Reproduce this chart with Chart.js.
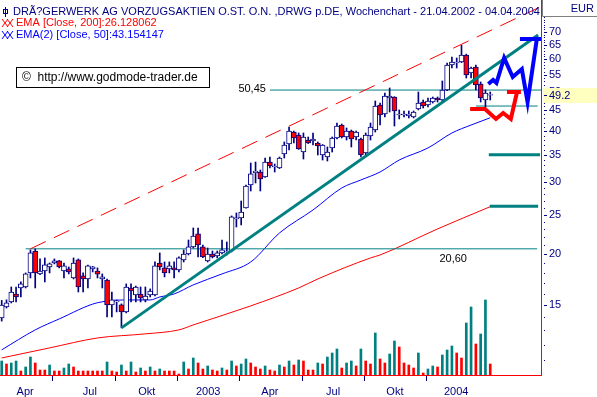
<!DOCTYPE html>
<html>
<head>
<meta charset="utf-8">
<script src="https://cdn.jsdelivr.net/npm/chart.js@4.4.1/dist/chart.umd.min.js"></script>
<style>
  html, body { margin: 0; padding: 0; background: #fff; }
  #chart { display: block; }
</style>
</head>
<body>
<canvas id="chart" width="597" height="397"></canvas>
<script>
// weekly candles 21.04.2002 - 04.04.2004 (week index 0..102)
const opens = [
  13.95, 14.85, 15.27, 15.97, 16.52, 16.61, 17.98, 20.35, 17.88, 18.18,
  18.60, 19.02, 19.24, 18.18, 18.39, 17.48, 19.35, 17.68, 17.38, 18.39,
  18.18, 17.38, 17.28, 15.01, 15.27, 15.01, 14.43, 16.52, 15.88, 15.97,
  15.44, 15.88, 15.88, 19.02, 18.50, 18.39, 18.50, 18.29, 19.35, 20.01,
  20.82, 22.41, 20.82, 19.24, 20.01, 19.79, 20.13, 20.24, 20.35, 24.38,
  24.52, 25.94, 29.53, 31.61, 31.78, 30.89, 33.62, 32.69, 32.50, 35.17,
  37.22, 39.82, 39.15, 35.57, 38.06, 37.85, 37.43, 34.97, 34.58, 36.39,
  38.49, 41.42, 38.71, 40.04, 38.71, 38.27, 35.37, 38.93, 40.27, 46.37,
  44.08, 48.24, 48.51, 43.83, 43.83, 43.60, 43.34, 45.34, 47.16, 46.37,
  47.16, 48.24, 47.70, 50.47, 58.11, 58.77, 59.10, 61.48, 55.54, 57.46,
  52.20, 47.70, 49.00
];
const highs = [
  15.40, 15.45, 16.61, 16.61, 17.09, 17.98, 20.47, 20.59, 19.46, 19.57,
  19.02, 19.46, 19.30, 19.02, 18.60, 19.57, 19.46, 17.98, 18.80, 18.65,
  18.50, 17.88, 17.38, 16.15, 15.44, 15.10, 16.90, 16.90, 16.70, 16.61,
  16.61, 16.43, 19.13, 20.13, 19.13, 19.13, 19.13, 19.68, 20.47, 21.65,
  23.17, 23.17, 21.05, 20.70, 20.35, 20.35, 21.65, 21.41, 24.80, 25.22,
  26.98, 29.53, 33.43, 33.62, 32.14, 34.39, 34.58, 33.24, 34.58, 37.64,
  40.96, 40.04, 39.60, 39.60, 38.71, 39.60, 37.64, 37.10, 36.59, 38.71,
  41.89, 41.65, 40.73, 40.27, 40.04, 38.49, 39.60, 41.89, 47.43, 46.89,
  49.62, 51.04, 48.60, 45.10, 44.83, 44.83, 44.83, 49.90, 47.70, 48.24,
  48.51, 48.51, 53.10, 58.77, 60.79, 60.45, 65.00, 61.80, 57.46, 58.11,
  52.80, 50.47, 49.90
];
const lows = [
  13.70, 14.75, 15.18, 15.27, 15.70, 16.52, 17.48, 16.52, 17.80, 17.09,
  17.98, 18.92, 18.50, 17.48, 17.88, 17.38, 16.15, 16.15, 16.52, 18.08,
  17.48, 16.52, 14.03, 14.03, 14.43, 13.19, 14.35, 15.27, 15.27, 15.27,
  15.27, 15.70, 15.80, 18.29, 17.58, 17.98, 17.48, 18.08, 19.13, 19.90,
  20.70, 19.68, 19.60, 19.13, 19.57, 19.57, 20.01, 19.90, 20.24, 23.30,
  23.57, 25.90, 28.55, 29.87, 28.55, 30.80, 32.50, 31.78, 32.40, 34.39,
  35.97, 37.43, 36.10, 34.19, 37.30, 37.01, 34.97, 34.00, 33.81, 35.57,
  38.27, 38.50, 38.06, 36.59, 38.06, 34.58, 34.97, 38.06, 39.82, 41.42,
  43.34, 44.58, 41.19, 42.86, 43.34, 43.10, 43.10, 45.10, 45.60, 45.85,
  46.89, 47.16, 47.16, 50.30, 57.14, 57.14, 58.90, 53.99, 53.99, 50.47,
  47.16, 45.85, 47.70
];
const closes = [
  15.00, 15.20, 16.15, 15.70, 16.90, 17.88, 20.13, 17.98, 18.18, 18.81,
  18.92, 19.24, 18.60, 18.71, 18.08, 19.02, 16.61, 17.38, 18.71, 18.60,
  17.85, 17.58, 15.01, 15.44, 15.35, 14.43, 16.61, 16.24, 16.61, 15.61,
  15.79, 16.24, 18.71, 18.60, 17.98, 18.71, 18.29, 19.57, 20.01, 20.82,
  22.15, 21.05, 19.68, 20.01, 19.68, 20.13, 20.47, 20.35, 24.66, 24.52,
  25.36, 29.37, 31.43, 31.96, 30.55, 33.62, 32.87, 32.87, 34.39, 37.01,
  40.04, 38.49, 36.18, 38.71, 37.43, 38.27, 36.80, 37.01, 35.57, 38.49,
  41.19, 38.71, 40.04, 38.27, 39.82, 34.97, 39.15, 40.96, 46.11, 43.83,
  48.78, 48.78, 44.83, 44.08, 44.08, 44.08, 44.58, 46.89, 46.11, 47.43,
  48.24, 47.70, 50.47, 58.11, 59.10, 59.10, 61.48, 54.92, 57.14, 51.91,
  48.24, 49.62, 49.20
];
// volume in thousand shares (estimated)
const volumes = [
  14, 11, 12, 14, 4, 8, 18, 12, 5, 5,
  10, 4, 4, 7, 11, 8, 4, 4, 4, 4,
  4, 4, 13, 4, 3, 10, 4, 13, 3, 7,
  4, 8, 4, 6, 4, 4, 4, 1, 13, 6,
  17, 12, 6, 9, 5, 4, 7, 5, 14, 9,
  11, 16, 12, 8, 6, 9, 5, 4, 10, 8,
  14, 10, 15, 14, 5, 5, 12, 11, 18, 22,
  26, 7, 12, 14, 9, 26, 14, 11, 42, 16,
  12, 21, 34, 28, 12, 10, 7, 22, 2, 6,
  9, 8, 20, 25, 29, 22, 17, 52, 68, 31,
  41, 75, 11
];

// moving averages (week index / value)
const ema200Weeks = [0, 10, 20, 30, 37, 40, 52, 62, 66, 77, 79, 91, 102];
const ema200Vals = [11.13, 11.78, 12.46, 12.75, 13.04, 13.41, 14.93, 16.52, 17.38, 19.57, 19.90, 23.05, 26.13];
const ema50Weeks = [0, 7, 12, 20, 27, 31, 33, 36, 40, 46, 52, 58, 65, 71, 75, 79, 83, 89, 94, 98, 102];
const ema50Vals = [11.65, 13.04, 13.87, 15.20, 15.44, 15.44, 15.70, 15.97, 16.81, 17.88, 19.13, 22.53, 25.65, 29.04, 30.38, 31.78, 34.00, 36.39, 39.60, 41.42, 43.15];

// drawn analysis lines (week index / price)
const trendWeeks = [25, 112];
const trendVals = [13.19, 68.8];
const channelWeeks = [6, 112.6];
const channelVals = [20.6, 80.8];
const supportLevel = 20.60;
const supportWeeks = [5, 111.8];
const resistLevel = 50.45;
const resistWeeks = [56, 112.6];
const stopLevel = 46.1;
const stopWeeks = [99, 111.9];
const target35Weeks = [101.7, 112.4];
const target35 = 35.0;
const target26Weeks = [101.9, 112];
const target26 = 26.2;
const blueWeeks = [101.6, 102.6, 103.3, 104.9, 106.7, 108.6, 109.8, 111.7];
const blueVals = [52.2, 53.4, 52.5, 60.45, 54.31, 56.8, 47.16, 66.9];
const blueTopWeeks = [108.2, 112.6];
const blueTop = 67.3;
const redWeeks = [97.8, 100.9, 103.2, 104.7, 106.3, 107.6];
const redVals = [45.35, 45.35, 42.86, 44.33, 42.86, 49.9];
const redTopWeeks = [105.5, 108.4];
const redTop = 49.9;

// axes
const quarterTicks = [10.7, 23.7, 36.7, 49.7, 62.7, 75.7, 88.7];
const monthLabelWeeks = [4.9, 18.4, 30.3, 43.1, 56.0, 69.2, 82.1, 94.9];
const monthLabels = ['Apr', 'Jul', 'Okt', '2003', 'Apr', 'Jul', 'Okt', '2004'];
const priceTicks = [15, 20, 25, 30, 35, 40, 45, 50, 55, 60, 65, 70];
const lastPrice = 49.2;

const NAVY = '#000080';
const TEAL = '#008080';
const RED = '#FF0000';
const BLUE = '#0000FF';
const FONT = '"Liberation Sans", Arial, sans-serif';

const weeks = closes.map((c, i) => i);
const pts = (xs, ys) => xs.map((x, i) => ({ x: x, y: ys[i] }));
const flat = (xs, v) => xs.map(x => ({ x: x, y: v }));

const volColors = volumes.map((v, i) => (i === 0 || v > volumes[i - 1]) ? TEAL : RED);
const bodyColors = closes.map((c, i) => c >= opens[i] ? '#FFFFFF' : RED);

function lineSet(data, color, width, order, extra) {
  return Object.assign({
    type: 'line', data: data, borderColor: color, borderWidth: width,
    pointRadius: 0, fill: false, yAxisID: 'y', order: order
  }, extra || {});
}

function noPad(s) {
  s.paddingTop = 0; s.paddingBottom = 0; s.paddingLeft = 0; s.paddingRight = 0;
}

const overlay = {
  id: 'overlay',
  afterDraw(chart) {
    const ctx = chart.ctx;
    const ys = chart.scales.y;
    const xs = chart.scales.x;
    const right = chart.chartArea.right;
    ctx.save();

    // y axis tick marks: dashes at labels, dots for every unit
    ctx.fillStyle = NAVY;
    for (let v = 11; v <= 83; v++) {
      const py = Math.round(ys.getPixelForValue(v));
      if (priceTicks.includes(v)) ctx.fillRect(right + 3, py, 3, 1);
      else ctx.fillRect(right + 3, py, 1, 1);
    }

    // level labels
    ctx.font = '11px ' + FONT;
    ctx.fillStyle = '#000000';
    ctx.textBaseline = 'middle';
    ctx.textAlign = 'right';
    ctx.fillText('50,45', xs.getPixelForValue(resistWeeks[0]) - 4, ys.getPixelForValue(resistLevel) - 1);
    ctx.textAlign = 'left';
    ctx.fillText('20,60', xs.getPixelForValue(91.4), ys.getPixelForValue(supportLevel) + 10);

    // last price box
    const lp = Math.round(ys.getPixelForValue(lastPrice));
    ctx.fillStyle = '#FFFFC0';
    ctx.fillRect(right + 2, lp - 7, 60, 15);
    ctx.fillStyle = NAVY;
    ctx.fillRect(right + 3, lp, 3, 1);
    ctx.fillText(lastPrice.toFixed(1), right + 8, lp + 1);

    // currency box
    ctx.fillStyle = '#FFFFFF';
    ctx.fillRect(right + 1, 0, 60, 17);
    ctx.strokeStyle = '#808080';
    ctx.lineWidth = 1;
    ctx.beginPath();
    ctx.moveTo(right + 1.5, 0); ctx.lineTo(right + 1.5, 16.5); ctx.lineTo(597, 16.5);
    ctx.stroke();
    ctx.fillStyle = NAVY;
    ctx.textAlign = 'right';
    ctx.fillText('EUR', 594, 9);

    // title and legend
    ctx.textAlign = 'left';
    ctx.fillStyle = NAVY;
    ctx.fillRect(5, 7, 1, 10);
    ctx.strokeStyle = NAVY;
    ctx.strokeRect(3.5, 9.5, 4, 4);
    ctx.fillText('DRÃ?GERWERK AG VORZUGSAKTIEN O.ST. O.N. ,DRWG p.DE, Wochenchart - 21.04.2002 - 04.04.2004', 13, 12);
    const cross = (y0, color) => {
      ctx.strokeStyle = color;
      ctx.beginPath();
      for (const x0 of [2, 7]) {
        ctx.moveTo(x0, y0 - 4); ctx.lineTo(x0 + 6, y0 + 4);
        ctx.moveTo(x0 + 6, y0 - 4); ctx.lineTo(x0, y0 + 4);
      }
      ctx.stroke();
    };
    cross(23, RED);
    ctx.fillStyle = RED;
    ctx.fillText('EMA [Close, 200]:26.128062', 16, 23);
    cross(35, BLUE);
    ctx.fillStyle = BLUE;
    ctx.fillText('EMA(2) [Close, 50]:43.154147', 16, 35);

    // copyright box
    ctx.fillStyle = '#FFFFFF';
    ctx.fillRect(16, 67, 194, 21);
    ctx.strokeStyle = '#000000';
    ctx.strokeRect(16.5, 67.5, 193, 20);
    ctx.fillStyle = '#000000';
    ctx.font = '12px ' + FONT;
    ctx.fillText('©  http://www.godmode-trader.de', 22, 78);
    ctx.restore();
  }
};

const xMin = -0.355;
const xMax = 112.6;

new Chart(document.getElementById('chart'), {
  type: 'bar',
  data: {
    datasets: [
      {
        type: 'bar', label: 'Volumen', yAxisID: 'yv', grouped: false, order: 20,
        data: pts(weeks, volumes), backgroundColor: volColors, barThickness: 2
      },
      lineSet(pts(ema200Weeks, ema200Vals), RED, 1, 15, { cubicInterpolationMode: 'monotone' }),
      lineSet(pts(ema50Weeks, ema50Vals), BLUE, 1, 15, { cubicInterpolationMode: 'monotone' }),
      lineSet(flat(supportWeeks, supportLevel), TEAL, 1, 14),
      lineSet(flat(resistWeeks, resistLevel), TEAL, 1, 14),
      lineSet(flat(stopWeeks, stopLevel), TEAL, 1, 14),
      {
        type: 'bar', label: 'Range', yAxisID: 'y', grouped: false, order: 10,
        data: weeks.map(i => ({ x: i, y: [lows[i], highs[i]] })),
        backgroundColor: NAVY, barThickness: 1
      },
      {
        type: 'bar', label: 'Kurs', yAxisID: 'y', grouped: false, order: 9,
        data: weeks.map(i => ({ x: i, y: [Math.min(opens[i], closes[i]), Math.max(opens[i], closes[i])] })),
        backgroundColor: bodyColors, borderColor: NAVY, borderWidth: 1, borderSkipped: false, barThickness: 5
      },
      lineSet(pts(trendWeeks, trendVals), TEAL, 3, 3),
      lineSet(pts(channelWeeks, channelVals), RED, 1, 3, { borderDash: [17, 9] }),
      lineSet(flat(target35Weeks, target35), TEAL, 3, 3),
      lineSet(flat(target26Weeks, target26), TEAL, 3, 3),
      lineSet(pts(redWeeks, redVals), RED, 4, 2),
      lineSet(flat(redTopWeeks, redTop), RED, 4, 2),
      lineSet(pts(blueWeeks, blueVals), BLUE, 4, 1),
      lineSet(flat(blueTopWeeks, blueTop), BLUE, 4, 1)
    ]
  },
  options: {
    responsive: false,
    animation: false,
    devicePixelRatio: 1,
    layout: { padding: 0 },
    plugins: { legend: { display: false }, tooltip: { enabled: false } },
    scales: {
      x: {
        type: 'linear', position: 'bottom', min: xMin, max: xMax, weight: 0, offset: false,
        afterBuildTicks: s => { s.ticks = quarterTicks.map(v => ({ value: v })); },
        ticks: { display: false },
        grid: { drawOnChartArea: false, drawTicks: true, tickLength: 6, color: NAVY, offset: false },
        border: { color: RED },
        afterFit: s => { s.height = 6; noPad(s); }
      },
      xl: {
        type: 'linear', position: 'bottom', min: xMin, max: xMax, weight: 1, offset: false,
        afterBuildTicks: s => { s.ticks = monthLabelWeeks.map(v => ({ value: v })); },
        ticks: {
          autoSkip: false, maxRotation: 0, minRotation: 0, padding: 4,
          color: NAVY, font: { family: FONT, size: 11 },
          callback: (v, i) => monthLabels[i]
        },
        grid: { display: false, drawTicks: false },
        border: { display: false },
        afterFit: s => { s.height = 16; noPad(s); }
      },
      y: {
        type: 'logarithmic', position: 'right', min: 10.11, max: 83.85,
        afterBuildTicks: s => { s.ticks = priceTicks.map(v => ({ value: v })); },
        ticks: {
          autoSkip: false, padding: 8, color: NAVY, font: { family: FONT, size: 11 },
          callback: v => String(v)
        },
        grid: { drawOnChartArea: false, drawTicks: false },
        border: { color: RED },
        afterFit: s => { s.width = 56; noPad(s); }
      },
      yv: { type: 'linear', display: false, min: 0, max: 375 }
    }
  },
  plugins: [overlay]
});
</script>
</body>
</html>
